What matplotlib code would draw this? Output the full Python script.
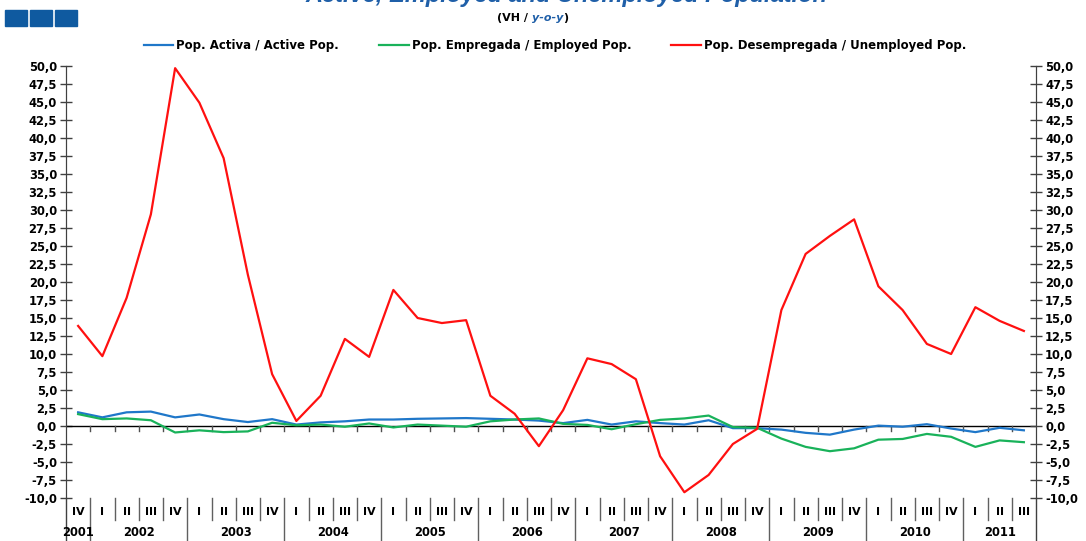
import matplotlib
matplotlib.use("Agg")
import matplotlib.pyplot as plt
import matplotlib.patches as mpatches
import matplotlib.transforms as mtransforms
from matplotlib.ticker import FuncFormatter
import numpy as np

plt.rcParams['font.family'] = ['DejaVu Sans']
plt.rcParams['font.weight'] = 'bold'

# quarters from IV 2001 to III 2011
quarters = ['IV'] + ['I', 'II', 'III', 'IV'] * 9 + ['I', 'II', 'III']
years = ['2001', '2002', '2003', '2004', '2005', '2006', '2007', '2008', '2009', '2010', '2011']

active = [1.9, 1.2, 1.9, 2.0, 1.2, 1.6, 0.95, 0.55, 0.95, 0.2,
          0.5, 0.65, 0.9, 0.9, 1.0, 1.05, 1.1, 1.0, 0.9, 0.75,
          0.4, 0.85, 0.2, 0.65, 0.4, 0.2, 0.8, -0.3, -0.3, -0.5,
          -0.95, -1.2, -0.5, 0.05, -0.1, 0.25, -0.35, -0.85, -0.25, -0.6]
employed = [1.65, 0.95, 1.05, 0.8, -0.9, -0.6, -0.85, -0.75, 0.45, 0.1,
            0.2, -0.1, 0.35, -0.2, 0.2, 0.05, -0.1, 0.65, 0.9, 1.05,
            0.3, 0.15, -0.45, 0.25, 0.85, 1.05, 1.45, -0.15, -0.25, -1.75,
            -2.9, -3.5, -3.1, -1.9, -1.8, -1.1, -1.5, -2.9, -2.0, -2.25]
unemployed = [13.9, 9.7, 17.8, 29.4, 49.7, 44.9, 37.2, 21.0, 7.2, 0.7,
              4.2, 12.1, 9.6, 18.9, 15.0, 14.3, 14.7, 4.2, 1.7, -2.8,
              2.2, 9.4, 8.6, 6.5, -4.2, -9.2, -6.8, -2.5, -0.4, 16.1,
              23.9, 26.4, 28.7, 19.4, 16.1, 11.4, 10.0, 16.5, 14.6, 13.2]

labels = ['Pop. Activa / Active Pop.',
          'Pop. Empregada / Employed Pop.',
          'Pop. Desempregada / Unemployed Pop.']
colors = ['#1F77C9', '#19B25A', '#FF1010']

W, H = 1086, 541
fig = plt.figure(figsize=(W / 100, H / 100), dpi=100)
ax = fig.add_axes([66 / W, 1 - 498 / H, (1036 - 66) / W, (498 - 66) / H])

x = np.arange(len(quarters))
for series, c, lab in zip([active, employed, unemployed], colors, labels):
    ax.plot(x, series, color=c, lw=1.6, label=lab, zorder=3)

ax.set_xlim(-0.5, len(quarters) - 0.5)
ax.set_ylim(-10, 50)
yt = np.arange(-10, 50.01, 2.5)
fmt = FuncFormatter(lambda v, p: f'{v:.1f}'.replace('.', ','))
ax.set_yticks(yt)
ax.yaxis.set_major_formatter(fmt)
ax.set_xticks([])
ax.tick_params(axis='y', direction='inout', length=9, width=1, color='#404040',
               labelsize=8.3, pad=2)

ax2 = ax.twinx()
ax2.set_ylim(-10, 50)
ax2.set_yticks(yt)
ax2.yaxis.set_major_formatter(fmt)
ax2.tick_params(axis='y', direction='inout', length=9, width=1, color='#404040',
                labelsize=8.3, pad=2)

for a in (ax, ax2):
    a.spines['top'].set_visible(False)
    a.spines['bottom'].set_visible(False)
    for s in ('left', 'right'):
        a.spines[s].set_color('#404040')
        a.spines[s].set_bounds(-10, 50)

# zero line with small quarter ticks
ax.axhline(0, color='black', lw=1, zorder=2)
for k in range(len(quarters) - 1):
    ax.plot([k + 0.5, k + 0.5], [0, -0.7], color='#505050', lw=1, zorder=2)

# category axis below the plot
trans = mtransforms.blended_transform_factory(ax.transData, ax.transAxes)
bottom = -(H - 498) / (498 - 66)
for s in (-0.5, len(quarters) - 0.5):
    ax.plot([s, s], [0, bottom], transform=trans, color='#404040', lw=1, clip_on=False)
year_starts = [0]
for k in range(len(quarters)):
    if k > 0 and quarters[k] == 'I':
        year_starts.append(k)
    if k < len(quarters) - 1:
        long = quarters[k + 1] == 'I'
        ax.plot([k + 0.5, k + 0.5], [0, bottom if long else -0.05], transform=trans,
                color='#606060', lw=1, clip_on=False)
    ax.text(k, -0.032, quarters[k], transform=trans, ha='center', va='center',
            fontsize=8, fontweight='bold')
year_ends = year_starts[1:] + [len(quarters)]
for yr, s, e in zip(years, year_starts, year_ends):
    ax.text((s + e - 1) / 2, -0.081, yr, transform=trans, ha='center', va='center',
            fontsize=8.3, fontweight='bold')

# legend
fig.legend(loc='center', bbox_to_anchor=(555 / W, 1 - 46 / H), ncol=3, frameon=False,
           fontsize=8.5, handlelength=2.5, handletextpad=0.25, columnspacing=3.4)

# header: cut title, subtitle and blue squares
fig.text(566 / W, 1 - 2 / H, 'Active, Employed and Unemployed Population', ha='center',
         va='baseline', fontsize=17, fontweight='bold', style='italic', color='#1F5FA8',
         family='Liberation Sans')
t1 = fig.text(497 / W, 1 - 18 / H, '(VH / ', ha='left', va='center', fontsize=8,
              fontweight='bold')
a2 = ax.annotate('y-o-y', xy=(1, 0), xycoords=t1, va='bottom', ha='left', fontsize=8,
                 fontweight='bold', style='italic', color='#1F5FA8', annotation_clip=False)
ax.annotate(')', xy=(1, 0), xycoords=a2, va='bottom', ha='left', fontsize=8,
            fontweight='bold', annotation_clip=False)
for i in range(3):
    fig.add_artist(mpatches.Rectangle(((5 + 25 * i) / W, 1 - 26 / H), 22 / W, 16 / H,
                                      transform=fig.transFigure, color='#0F5AA0'))

fig.savefig('out.png', dpi=100)
